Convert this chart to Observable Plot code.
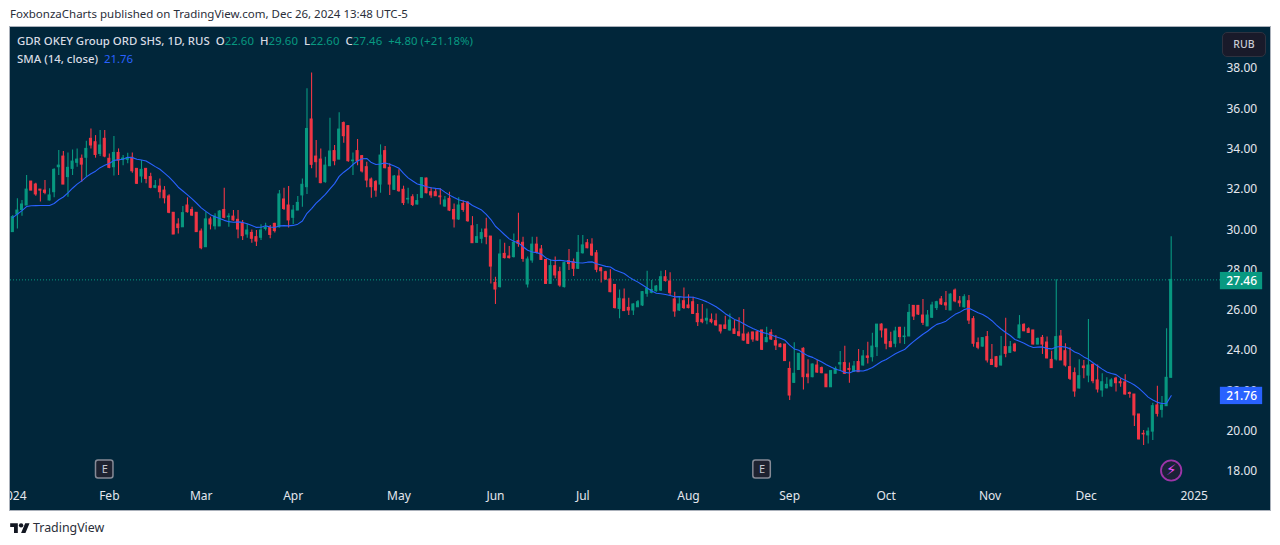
<!DOCTYPE html>
<html><head><meta charset="utf-8">
<script src="https://cdn.jsdelivr.net/npm/d3@7"></script>
<script src="https://cdn.jsdelivr.net/npm/@observablehq/plot@0.6"></script>
<style>
html,body{margin:0;padding:0;background:#fff;overflow:hidden;width:1280px;height:545px;font-family:"Noto Sans",sans-serif}
#head{position:absolute;left:10px;top:6px;font-size:11.5px;line-height:16px;color:#2a2e39;white-space:nowrap}
#box{position:absolute;left:10px;top:27px;width:1260px;height:483px;outline:1px solid #aab0ba;background:#01263a}
#legend{position:absolute;left:17px;top:32px;font-size:11.4px;line-height:17.5px;color:#d8dce4;white-space:nowrap;font-weight:500}
#legend .g{color:#089981;font-weight:400}#legend .b{color:#2962ff;font-weight:400}
#legend .o{letter-spacing:.05px}
#rub{position:absolute;left:1222px;top:32px;width:42px;height:23px;border:1px solid #2e3240;border-radius:5px;background:#191a2a;color:#c9ccd4;font-size:10.5px;line-height:23px;text-align:center;font-weight:500}
#foot{position:absolute;left:10px;top:519px;height:16px;display:flex;align-items:center;gap:3px;color:#2a2e39;font-size:12.4px}
</style></head><body>
<div id="head">FoxbonzaCharts published on TradingView.com, Dec 26, 2024 13:48 UTC-5</div>
<div id="box"></div>
<div id="legend"><div>GDR OKEY Group ORD SHS, 1D, RUS&nbsp; <span class="o">O<span class="g">22.60</span>&nbsp; H<span class="g">29.60</span>&nbsp; L<span class="g">22.60</span>&nbsp; C<span class="g">27.46</span>&nbsp; <span class="g">+4.80 (+21.18%)</span></span></div><div>SMA (14, close)&nbsp; <span class="b">21.76</span></div></div>
<div id="rub">RUB</div>
<div id="foot"><svg width="20" height="12" viewBox="0 0 36 22"><path fill="#131722" d="M14 22H7V11H0V4h14v18zM28 22h-8l7.5-18h8L28 22z"/><circle fill="#131722" cx="20" cy="8" r="4"/></svg><span>TradingView</span></div>
<script>
const highs=[30.65,31.48,31.40,32.64,32.34,32.26,31.94,32.39,31.98,32.97,
33.88,33.83,33.76,33.91,33.96,33.66,34.34,34.95,34.62,34.87,
34.87,33.71,34.57,33.96,33.63,33.75,33.76,32.97,33.38,32.97,
32.75,32.39,32.47,32.09,31.68,30.79,30.49,31.10,31.53,31.07,
30.79,29.99,30.82,30.57,30.74,30.90,32.01,30.74,30.90,30.90,
30.41,30.21,29.94,29.91,30.19,30.27,30.16,30.27,31.89,32.01,
32.09,31.15,31.60,32.47,36.94,37.73,34.38,33.96,33.55,35.48,
34.13,35.75,35.29,35.09,33.76,34.43,33.63,33.30,32.52,32.39,
34.16,34.08,33.22,32.64,32.92,32.11,32.01,31.68,31.70,32.52,
32.51,32.03,31.98,31.98,31.60,31.81,31.23,31.53,31.37,31.35,
30.60,30.21,29.99,30.52,29.61,27.59,29.45,29.28,29.12,29.74,
30.77,29.58,28.59,29.58,29.58,29.17,28.45,28.45,28.59,28.09,
28.34,28.97,28.50,29.66,29.66,29.46,29.50,28.92,28.06,27.89,
27.96,27.23,26.96,27.01,26.55,26.27,26.44,26.88,27.89,27.43,
27.18,27.89,27.92,27.81,26.85,26.63,27.06,26.72,26.60,26.24,
26.24,26.02,25.77,25.77,25.20,25.66,25.77,25.44,25.58,25.99,
24.86,24.86,24.91,24.95,25.11,24.98,24.70,24.29,24.25,23.38,
24.34,23.79,24.09,23.49,23.29,23.46,23.13,22.76,22.96,23.13,
23.90,24.17,23.34,23.41,24.00,23.95,24.37,24.81,25.24,25.28,
25.00,24.86,25.11,25.11,25.11,26.24,26.19,26.19,26.49,25.94,
26.35,26.40,26.63,26.88,26.77,27.01,26.63,26.72,26.68,25.64,
24.58,24.58,24.90,24.25,23.66,24.65,25.56,24.40,24.32,25.69,
25.28,25.08,24.95,24.58,24.70,24.62,23.92,27.46,24.95,24.29,
24.09,23.09,23.49,23.46,25.49,23.29,23.24,22.80,22.60,22.55,
22.63,22.55,22.75,21.89,21.77,20.78,19.98,20.11,21.34,22.18,
21.67,25.03,29.60];
const lows=[29.83,29.99,30.62,31.15,31.89,31.61,31.32,31.68,31.37,31.53,
32.64,32.19,31.56,32.64,33.05,32.31,32.56,33.96,33.50,33.58,
33.52,32.97,32.61,32.64,33.13,33.22,32.75,32.19,32.26,32.23,
31.98,31.98,31.48,31.23,30.74,29.71,29.74,30.07,30.77,30.62,
29.83,28.95,29.08,29.94,29.94,30.11,30.49,30.07,30.37,29.50,
29.41,29.53,29.28,29.12,29.41,29.88,29.50,29.79,30.04,30.90,
30.03,30.21,30.90,31.07,31.70,32.97,32.51,32.23,32.26,33.09,
33.13,33.42,34.24,33.30,32.64,33.13,32.77,32.03,31.51,31.56,
31.76,32.97,31.65,31.89,31.81,31.15,31.23,31.10,31.18,31.48,
31.73,31.51,31.60,31.18,31.07,30.85,30.04,30.41,30.82,30.32,
29.28,29.28,29.25,29.20,27.26,26.24,27.06,28.50,28.50,28.55,
29.08,28.34,27.06,28.29,28.75,28.42,27.23,27.26,27.51,27.10,
27.06,27.92,27.63,27.97,28.75,29.00,28.62,27.81,27.31,27.43,
26.82,26.02,25.53,25.89,25.69,25.69,26.10,26.14,26.60,26.77,
26.85,26.88,27.35,26.68,25.61,25.89,25.99,26.02,25.74,25.15,
25.28,25.23,25.28,25.16,24.78,25.00,24.91,24.75,24.62,24.42,
24.25,24.37,24.42,23.95,24.34,24.45,23.95,24.09,23.41,21.47,
22.33,22.96,22.00,22.30,22.60,22.83,22.80,22.13,22.13,22.80,
22.96,22.76,22.33,22.86,22.88,23.18,23.29,23.38,23.66,24.58,
23.99,24.09,24.09,24.29,24.25,24.65,25.44,25.69,25.20,25.15,
25.56,25.94,26.19,25.94,25.94,26.32,26.10,26.07,25.24,24.12,
23.99,24.12,23.34,23.21,23.09,23.18,23.59,23.82,23.87,24.53,
24.88,24.80,24.24,24.24,23.76,23.54,23.06,23.43,23.46,23.13,
22.47,21.64,22.05,22.55,22.35,22.30,21.84,21.64,22.05,22.13,
21.89,22.13,21.75,21.59,20.18,19.52,19.24,19.32,19.49,20.65,
20.61,21.18,22.60];
const opens=[29.83,30.70,30.93,31.15,32.34,32.19,31.94,31.89,31.40,31.81,
33.05,33.58,32.56,32.97,33.27,33.47,33.52,34.46,34.29,33.71,
34.46,33.47,33.05,33.76,33.42,33.42,33.52,32.97,32.59,32.97,
32.56,32.03,32.09,31.89,31.60,30.79,30.21,30.07,31.15,30.93,
30.79,29.86,29.08,30.46,30.12,30.11,30.93,30.57,30.60,30.44,
30.27,29.71,29.79,29.58,29.55,29.99,30.03,30.24,30.07,31.45,
31.15,30.54,30.90,31.65,32.06,35.42,33.58,33.43,32.31,33.10,
33.85,33.43,35.24,35.09,33.35,33.85,33.60,33.05,32.44,32.31,
32.19,33.85,33.02,31.93,32.59,31.93,31.45,31.56,31.20,31.53,
32.49,31.81,31.81,31.60,31.10,31.48,30.93,30.46,31.23,31.28,
30.12,29.30,29.50,29.96,29.61,27.31,27.10,28.75,28.62,28.59,
29.38,29.30,27.23,28.42,29.21,28.97,28.45,27.26,28.14,27.84,
27.10,28.39,28.34,28.01,28.78,29.28,29.21,28.78,28.04,27.84,
27.48,27.21,26.02,26.49,26.07,25.94,26.10,26.19,26.77,26.82,
26.90,26.93,27.59,27.38,26.49,25.94,26.40,26.19,26.35,25.77,
25.48,25.44,25.48,25.41,25.20,25.20,24.95,25.00,24.86,24.75,
24.75,24.85,24.86,24.95,24.37,24.83,24.42,24.25,24.25,23.04,
22.35,22.99,24.04,22.76,22.63,23.21,23.08,22.76,22.13,22.80,
23.26,23.33,23.04,22.90,23.38,23.21,23.66,23.62,24.12,25.24,
25.00,24.37,24.29,25.08,24.62,24.65,26.17,26.17,25.69,25.15,
25.58,26.06,26.49,26.30,25.94,26.93,26.39,26.10,26.40,25.51,
24.32,24.15,24.62,23.49,23.62,23.21,24.12,23.84,24.25,24.57,
25.23,25.01,24.95,24.25,24.58,24.35,23.49,23.51,24.65,23.92,
23.13,22.83,22.07,23.16,22.71,23.24,22.47,21.97,22.08,22.17,
22.56,22.38,22.37,21.84,21.77,20.78,19.82,19.74,19.93,21.23,
21.01,21.19,22.60];
const closes=[30.57,30.90,31.20,31.94,31.89,31.70,31.89,31.78,31.65,32.92,
33.13,32.19,33.02,33.33,33.43,33.18,33.96,34.13,33.66,34.13,
33.58,33.02,33.76,33.38,33.48,33.50,32.85,32.23,32.92,32.47,
32.03,32.11,31.81,31.51,30.79,29.71,30.03,30.77,30.82,30.65,
29.83,29.03,30.46,30.21,30.60,30.85,30.54,30.60,30.41,29.96,
29.63,29.91,29.50,29.36,29.91,30.04,29.69,29.88,31.70,30.98,
30.41,30.90,31.28,32.18,34.95,33.17,33.30,32.26,33.13,33.83,
33.35,34.92,34.59,33.35,33.38,33.35,32.84,32.39,32.06,31.89,
33.63,33.00,32.19,32.59,31.86,31.27,31.48,31.18,31.37,32.51,
31.76,31.65,31.61,31.56,31.40,30.90,30.46,31.15,30.93,30.37,
29.28,29.58,29.78,29.58,28.12,26.98,28.72,28.54,28.54,29.30,
29.25,28.50,28.47,29.21,28.80,28.45,27.26,28.14,27.68,27.18,
28.29,28.25,28.01,28.80,29.17,29.03,28.67,27.96,27.89,27.48,
26.85,26.06,26.52,25.91,25.94,26.24,26.35,26.85,27.01,26.96,
27.13,27.59,27.40,26.80,25.89,26.24,26.06,26.06,25.77,25.36,
25.36,25.53,25.36,25.20,24.90,25.03,25.44,24.78,24.68,24.45,
24.29,24.50,24.45,23.99,24.57,24.50,24.20,24.12,23.43,21.72,
22.80,23.79,22.63,22.63,23.26,22.86,22.83,22.13,22.93,23.04,
23.33,22.80,22.99,23.16,22.88,23.66,23.59,24.15,25.24,24.95,
24.29,24.12,24.90,24.62,24.65,25.82,25.64,25.74,25.33,25.69,
26.19,26.35,26.24,26.19,26.73,26.39,26.30,26.60,25.44,24.29,
24.09,24.57,23.46,23.24,23.13,23.66,23.79,24.12,23.92,25.20,
24.91,24.83,24.25,24.53,24.25,23.56,23.08,24.62,23.46,23.21,
22.55,21.92,22.68,23.08,23.21,22.43,22.02,22.38,22.25,22.47,
22.33,22.33,21.77,21.80,20.73,19.54,19.79,19.93,21.19,20.81,
21.23,22.60,27.46];
// closes of the 13 sessions before the visible window, estimated from where the SMA line starts
const priorCloses=[28.40,28.80,29.13,31.30,31.60,31.85,31.80,31.60,31.55,30.50,30.30,30.20,30.06];
const priceTicks=[38,36,34,32,30,28,26,24,22,20,18];
const timeTicks=[0,21,41,61,84,105,124,147,169,190,212.6,233.5,257];
const timeLabels=["2024","Feb","Mar","Apr","May","Jun","Jul","Aug","Sep","Oct","Nov","Dec","2025"];
const earnings=[20,163];
const lastClose=27.46, lastSma=21.76;
const UP="#089981", DOWN="#f23645", BLUE="#2962ff";

const rows=closes.map((c,i)=>({i,open:opens[i],high:highs[i],low:lows[i],close:c,col:c>=opens[i]?UP:DOWN}));
const smaRows=[...priorCloses,...closes].map((close,k)=>({i:k-priorCloses.length,close}));
const n=rows.length-1;
const font='"Noto Sans",sans-serif';
const axisFill="#e4e7ee";
const tag=[{v:lastClose,fill:UP},{v:lastSma,fill:BLUE}];

const chart=Plot.plot({
  width:1260,height:483,
  marginLeft:0,marginRight:46,marginTop:0,marginBottom:28,
  style:{background:"transparent",fontFamily:font,overflow:"hidden",position:"absolute",left:"10px",top:"27px",maxWidth:"none"},
  x:{type:"linear",domain:[-0.5,263.6],range:[0,1214],axis:null},
  y:{type:"linear",domain:[17.404,39.985],range:[455,0],axis:null},
  marks:[
    Plot.axisY(priceTicks,{anchor:"right",label:null,tickSize:0,tickPadding:2,dy:1,fontSize:12,fill:axisFill,tickFormat:d=>d.toFixed(2)}),
    Plot.axisX(timeTicks,{anchor:"bottom",label:null,tickSize:0,tickPadding:9,fontSize:12,fill:axisFill,tickFormat:d=>timeLabels[timeTicks.indexOf(d)]}),
    Plot.ruleY([lastClose],{stroke:UP,strokeWidth:1,strokeDasharray:"1 2"}),
    Plot.ruleX(rows,{x:"i",y1:"low",y2:"high",stroke:"col",strokeWidth:1.1}),
    Plot.rect(rows,{x1:d=>d.i-0.22,x2:d=>d.i+0.22,y1:"open",y2:"close",fill:"col",stroke:"col",strokeWidth:1}),
    Plot.lineY(smaRows,Plot.windowY({k:14,anchor:"end",reduce:"mean",strict:true},{x:"i",y:"close",stroke:BLUE,strokeWidth:1.1})),
    // earnings markers and alert marker
    Plot.rect(earnings,{x1:d=>d-1.9,x2:d=>d+1.9,y1:17.6,y2:18.5,rx:2.5,fill:"#1e2230",stroke:"#868a96",strokeWidth:1.5}),
    Plot.text(earnings,{x:d=>d,y:18.05,text:()=>"E",fill:"#c4c8d2",fontSize:11}),
    Plot.dot([n],{x:d=>d,y:18,r:10.2,fill:"#1a2238",stroke:"#9c35a8",strokeWidth:1.8}),
    Plot.text([n],{x:d=>d,y:18,text:()=>"\u26A1",fill:"#ec4bff",fontSize:15,fontFamily:"DejaVu Sans"}),
    // last-value tags on the price scale
    Plot.rect(tag,{x1:262.7,x2:271.9,y1:d=>d.v-0.49,y2:d=>d.v+0.37,fill:"fill",clip:false}),
    Plot.text(tag,{x:264.0,y:d=>d.v-0.06,text:d=>d.v.toFixed(2),fill:"#fff",fontSize:12,textAnchor:"start",fontWeight:500})
  ]
});
document.body.insertBefore(chart,document.getElementById("legend"));
</script>
</body></html>
